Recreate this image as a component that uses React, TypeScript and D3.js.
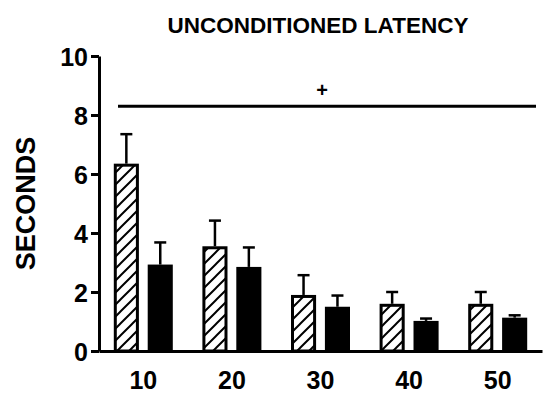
import { useEffect, useRef } from "react"
import * as d3 from "d3"

const GROUPS = ["10", "20", "30", "40", "50"]
const HATCHED = [6.35, 3.55, 1.9, 1.6, 1.6]
const HATCHED_ERR = [1.0, 0.87, 0.67, 0.4, 0.4]
const SOLID = [2.93, 2.85, 1.5, 1.02, 1.13]
const SOLID_ERR = [0.75, 0.66, 0.38, 0.08, 0.08]
const Y_TICKS = [0, 2, 4, 6, 8, 10]
const TITLE = "UNCONDITIONED LATENCY"
const Y_LABEL = "SECONDS"
const BRACKET_Y = 8.3

const W = 543
const H = 396
const FONT = "'Liberation Sans', Arial, sans-serif"

export default function App() {
  const svgRef = useRef<SVGSVGElement>(null)

  useEffect(() => {
    const svg = d3.select(svgRef.current)
    svg.selectAll("*").remove()

    const x = d3.scaleBand().domain(GROUPS).range([99, 542])
    const y = d3.scaleLinear().domain([0, 10]).range([351, 56])
    const inner = d3.scaleBand().domain(["h", "s"]).range([-29.5, 29.5]).paddingInner(0.26)

    // hatch pattern
    const defs = svg.append("defs")
    const pat = defs.append("pattern")
      .attr("id", "hatch")
      .attr("patternUnits", "userSpaceOnUse")
      .attr("width", 12)
      .attr("height", 12)
    pat.append("rect").attr("width", 12).attr("height", 12).attr("fill", "white")
    pat.append("path")
      .attr("d", "M-3,3 L3,-3 M0,12 L12,0 M9,15 L15,9")
      .attr("stroke", "black")
      .attr("stroke-width", 2)

    // title
    svg.append("text")
      .attr("x", 318).attr("y", 33)
      .attr("text-anchor", "middle")
      .attr("font-family", FONT)
      .attr("font-weight", "bold")
      .attr("font-size", 22.5)
      .text(TITLE)

    // y label
    svg.append("text")
      .attr("transform", `translate(35,${y(5)}) rotate(-90)`)
      .attr("text-anchor", "middle")
      .attr("font-family", FONT)
      .attr("font-weight", "bold")
      .attr("font-size", 27)
      .text(Y_LABEL)

    // bars
    const g = svg.append("g")
    GROUPS.forEach((grp, i) => {
      const cx = x(grp)! + x.bandwidth() / 2
      const series = [
        { key: "h", v: HATCHED[i], e: HATCHED_ERR[i], fill: "url(#hatch)" },
        { key: "s", v: SOLID[i], e: SOLID_ERR[i], fill: "black" },
      ]
      series.forEach((s) => {
        const bx = cx + inner(s.key)!
        const bw = inner.bandwidth()
        const mid = bx + bw / 2
        // error bar (upward only)
        g.append("line")
          .attr("x1", mid).attr("x2", mid)
          .attr("y1", y(s.v)).attr("y2", y(s.v + s.e))
          .attr("stroke", "black").attr("stroke-width", 2.5)
        g.append("line")
          .attr("x1", mid - 6).attr("x2", mid + 6)
          .attr("y1", y(s.v + s.e)).attr("y2", y(s.v + s.e))
          .attr("stroke", "black").attr("stroke-width", 2.5)
        g.append("rect")
          .attr("x", bx + 1.5).attr("width", bw - 3)
          .attr("y", y(s.v) + 1.5).attr("height", y(0) - y(s.v) - 1.5)
          .attr("fill", s.fill)
          .attr("stroke", "black").attr("stroke-width", 3)
      })
    })

    // y axis
    const yAxis = svg.append("g")
      .attr("transform", "translate(99,0)")
      .call(d3.axisLeft(y).tickValues(Y_TICKS).tickSize(8).tickPadding(3).tickSizeOuter(0))
    yAxis.select(".domain").attr("stroke-width", 3)
    yAxis.selectAll(".tick line").attr("stroke-width", 3)
    yAxis.selectAll(".tick text")
      .attr("font-family", FONT).attr("font-weight", "bold").attr("font-size", 25)
      .attr("fill", "black").attr("dy", "0.36em")

    // x axis
    const xAxis = svg.append("g")
      .attr("transform", `translate(0,${y(0)})`)
      .call(d3.axisBottom(x).tickSize(0).tickPadding(20).tickSizeOuter(0))
    xAxis.select(".domain").attr("stroke-width", 3)
    xAxis.selectAll(".tick text")
      .attr("font-family", FONT).attr("font-weight", "bold").attr("font-size", 25)
      .attr("fill", "black")

    // significance bracket
    svg.append("line")
      .attr("x1", 118).attr("x2", 536)
      .attr("y1", y(BRACKET_Y)).attr("y2", y(BRACKET_Y))
      .attr("stroke", "black").attr("stroke-width", 3)
    svg.append("text")
      .attr("x", 322).attr("y", y(BRACKET_Y) - 9)
      .attr("text-anchor", "middle")
      .attr("font-family", FONT).attr("font-weight", "bold").attr("font-size", 20)
      .text("+")
  }, [])

  return (
    <svg ref={svgRef} width={W} height={H}
      style={{ position: "absolute", left: 0, top: 0, background: "white" }} />
  )
}
